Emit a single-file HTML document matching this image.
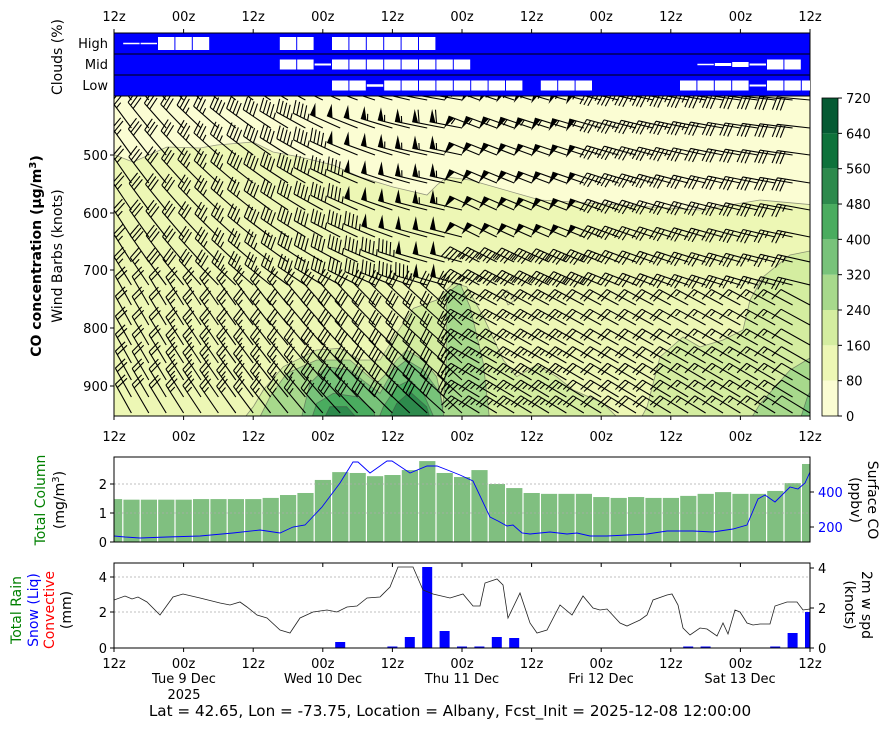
<!DOCTYPE html>
<html><head><meta charset="utf-8"><style>
html,body{margin:0;padding:0;background:#fff;}
svg{display:block;font-family:"DejaVu Sans","Liberation Sans",sans-serif;}
</style></head><body>
<svg id="s" width="891" height="730" viewBox="0 0 891 730" xmlns="http://www.w3.org/2000/svg">
<defs>
<clipPath id="cm"><rect x="114" y="96" width="696" height="320"/></clipPath>
<clipPath id="c2"><rect x="114" y="457" width="696" height="85"/></clipPath>
<clipPath id="c3"><rect x="114" y="563" width="696" height="85"/></clipPath>
</defs>
<g id="main" clip-path="url(#cm)"></g>
<g id="bars" ></g>
<g id="axes"></g>
<g font-size="13" fill="#000">
<text x="108" y="48" text-anchor="end">High</text>
<text x="108" y="69" text-anchor="end">Mid</text>
<text x="108" y="90" text-anchor="end">Low</text>
<text transform="translate(62,57) rotate(-90)" text-anchor="middle" font-size="14">Clouds (%)</text>
<text transform="translate(41,256) rotate(-90)" text-anchor="middle" font-size="14" font-weight="bold">CO concentration (μg/m<tspan font-size="10" dy="-5">3</tspan><tspan dy="5">)</tspan></text>
<text transform="translate(62,256) rotate(-90)" text-anchor="middle" font-size="14">Wind Barbs (knots)</text>
<text x="108" y="160" text-anchor="end">500</text>
<text x="108" y="218" text-anchor="end">600</text>
<text x="108" y="275" text-anchor="end">700</text>
<text x="108" y="333" text-anchor="end">800</text>
<text x="108" y="391" text-anchor="end">900</text>
<text transform="translate(45,500) rotate(-90)" text-anchor="middle" font-size="14" fill="green">Total Column</text>
<text transform="translate(64,500) rotate(-90)" text-anchor="middle" font-size="14">(mg/m<tspan font-size="10" dy="-5">3</tspan><tspan dy="5">)</tspan></text>
<text x="107" y="489" text-anchor="end">2</text>
<text x="107" y="518" text-anchor="end">1</text>
<text x="107" y="547" text-anchor="end">0</text>
<text x="818" y="497" fill="#0000ff">400</text>
<text x="818" y="532" fill="#0000ff">200</text>
<text transform="translate(868,500) rotate(90)" text-anchor="middle" font-size="14">Surface CO</text>
<text transform="translate(851,500) rotate(90)" text-anchor="middle" font-size="14">(ppbv)</text>
<text transform="translate(21,610) rotate(-90)" text-anchor="middle" font-size="14" fill="green">Total Rain</text>
<text transform="translate(38,610) rotate(-90)" text-anchor="middle" font-size="14" fill="#0000ff">Snow (Liq)</text>
<text transform="translate(54,610) rotate(-90)" text-anchor="middle" font-size="14" fill="red">Convective</text>
<text transform="translate(71,610) rotate(-90)" text-anchor="middle" font-size="14">(mm)</text>
<text x="107" y="582" text-anchor="end">4</text>
<text x="107" y="617" text-anchor="end">2</text>
<text x="107" y="653" text-anchor="end">0</text>
<text x="818" y="573">4</text>
<text x="818" y="613">2</text>
<text x="818" y="653">0</text>
<text transform="translate(862,605) rotate(90)" text-anchor="middle" font-size="14">2m w spd</text>
<text transform="translate(845,605) rotate(90)" text-anchor="middle" font-size="14">(knots)</text>
<text x="184" y="683" text-anchor="middle">Tue 9 Dec</text>
<text x="184" y="699" text-anchor="middle">2025</text>
<text x="323" y="683" text-anchor="middle">Wed 10 Dec</text>
<text x="462" y="683" text-anchor="middle">Thu 11 Dec</text>
<text x="601" y="683" text-anchor="middle">Fri 12 Dec</text>
<text x="740" y="683" text-anchor="middle">Sat 13 Dec</text>
<text x="450" y="716" text-anchor="middle" font-size="15.2">Lat = 42.65, Lon = -73.75, Location = Albany, Fcst_Init = 2025-12-08 12:00:00</text>
</g>
</svg>
<script>
var NS="http://www.w3.org/2000/svg";
function el(p,tag,a,txt){var e=document.createElementNS(NS,tag);for(var k in a)e.setAttribute(k,a[k]);if(txt!=null)e.textContent=txt;p.appendChild(e);return e;}
var S=document.getElementById('s'),M=document.getElementById('main'),B=document.getElementById('bars'),A=document.getElementById('axes');
function tx(k){return 114+17.4*k;}
var cols=['#fbfdd3','#edf7b5','#d4eda0','#a7d98c','#78c37a','#4aac5f','#2d8a4c','#0e723b','#055a33'];
el(M,'rect',{x:114,y:96,width:696,height:320,fill:cols[1]});
function poly(pts,c){el(M,'polygon',{points:pts.map(function(p){return p.join(',')}).join(' '),fill:c,stroke:'#444','stroke-opacity':0.55,'stroke-width':0.8});}
function Z(arr){return arr.map(function(p){return [250+p[0]/3,250+p[1]/3];});}
poly([[110,90],[815,90],[815,205],[760,200],[700,210],[620,205],[540,200],[470,180],[447,177],[437,185],[427,195],[393,187],[360,177],[333,165],[300,157],[273,152],[253,142],[217,145],[200,148],[167,147],[133,162],[115,155],[110,155]],cols[0]);
poly(Z([[-30,520],[10,470],[40,420],[100,350],[200,300],[270,295],[330,330],[390,330],[440,250],[490,175],[560,150],[610,100],[650,110],[700,200],[760,330],[800,380],[860,345],[920,380],[970,420],[1060,460],[1120,520]]),cols[2]);
poly([[640,420],[647,407],[660,357],[683,337],[700,347],[723,340],[743,330],[750,300],[763,277],[790,255],[815,250],[815,420]],cols[2]);
poly([[503,293],[507,290],[515,300],[508,305]],cols[1]);
poly(Z([[20,520],[60,440],[110,370],[200,330],[300,330],[380,400],[410,370],[440,330],[470,300],[520,330],[560,380],[590,520]]),cols[3]);
poly(Z([[575,520],[590,320],[590,130],[630,100],[660,170],[700,340],[720,520]]),cols[3]);
poly([[750,420],[760,404],[790,370],[815,355],[815,420]],cols[3]);
poly(Z([[150,520],[180,400],[230,350],[300,360],[350,400],[390,430],[430,360],[470,330],[520,360],[570,430],[585,520]]),cols[4]);
poly([[800,420],[808,395],[815,385],[815,420]],cols[4]);
poly(Z([[180,520],[200,460],[250,430],[320,440],[370,480],[380,520]]),cols[5]);
poly(Z([[380,520],[400,470],[440,410],[480,390],[520,430],[560,520]]),cols[5]);
poly(Z([[410,520],[440,460],[480,425],[530,470],[545,520]]),cols[6]);
poly(Z([[215,520],[240,470],[290,470],[335,520]]),cols[6]);
function barb(x,y,ang,spd,sg){
  var L=33,c=Math.cos(ang),s=Math.sin(ang),px=-s*sg,py=c*sg;
  var ex=x+L*c,ey=y+L*s;var d='M'+x.toFixed(1)+' '+y.toFixed(1)+'L'+ex.toFixed(1)+' '+ey.toFixed(1);
  var v=Math.round(spd/5)*5,pos=0,fl='';
  while(v>=50){var ax=ex-pos*c,ay=ey-pos*s,bx=ex-(pos+6)*c,by=ey-(pos+6)*s;
    fl+='M'+ax.toFixed(1)+' '+ay.toFixed(1)+'L'+(ax+px*13).toFixed(1)+' '+(ay+py*13).toFixed(1)+'L'+bx.toFixed(1)+' '+by.toFixed(1)+'Z';pos+=7;v-=50;}
  while(v>=10){var ax=ex-pos*c,ay=ey-pos*s;d+='M'+ax.toFixed(1)+' '+ay.toFixed(1)+'l'+(px*13+c*3.5).toFixed(1)+' '+(py*13+s*3.5).toFixed(1);pos+=4;v-=10;}
  if(v>=5){if(pos==0)pos=4;var ax=ex-pos*c,ay=ey-pos*s;d+='M'+ax.toFixed(1)+' '+ay.toFixed(1)+'l'+(px*6.5+c*1.7).toFixed(1)+' '+(py*6.5+s*1.7).toFixed(1);}
  el(M,'path',{d:d,stroke:'#000','stroke-width':1.1,fill:'none'});
  if(fl)el(M,'path',{d:fl,fill:'#000'});
}
var rows=[100,128,155,183,210,237,262,285,305,325,345,363,380,397,413];
var D=Math.PI/180;
rows.forEach(function(y){var f=(y-97)/320;
 for(var k=0;k<=40;k++){var t=3*k,x=tx(k),ang,sp,sg;
  if(t<62){var u=Math.min(1,t/55);sg=1;
    if(f<0.6){ang=235-45*u+10*f;sp=25+35*u*(1-f*0.6);}
    else{ang=242-20*u;sp=20+12*u;}
  } else {sg=-1;var u=(t-62)/58;
    if(f<0.65){ang=200-15*u+15*f;sp=(t<86?55-f*15:42-12*u-f*8);}
    else{ang=208+10*(f-0.65);sp=28-16*u;}
  }
  barb(x,y,ang*D,sp,sg);}
});
el(A,'rect',{x:114,y:96,width:696,height:320,fill:'none',stroke:'#000','stroke-width':1});
el(A,'rect',{x:114,y:33,width:696,height:63,fill:'#0000ff',stroke:'#000','stroke-width':1});
el(A,'line',{x1:114,y1:54,x2:810,y2:54,stroke:'#000'});el(A,'line',{x1:114,y1:75,x2:810,y2:75,stroke:'#000'});
var CL=[[43.5,[[1,1.5],[2,1.5],[3,13],[4,13],[5,13],[10,13],[11,13],[13,13],[14,13],[15,13],[16,13],[17,13],[18,13]]],
[64.5,[[10,10],[11,10],[12,2],[13,10],[14,10],[15,10],[16,10],[17,10],[18,10],[19,10],[20,10],[34,1.5],[35,3],[36,5],[37,2],[38,10],[39,10]]],
[85.5,[[13,10],[14,10],[15,2.5],[16,10],[17,10],[18,10],[19,10],[20,10],[21,10],[22,10],[23,10],[25,10],[26,10],[27,10],[33,10],[34,10],[35,10],[36,10],[37,2],[38,10],[39,10],[40,10]]]];
CL.forEach(function(r){r[1].forEach(function(b){var x=tx(b[0])-8.2,w=16.4;if(b[0]==40)w=8.2;if(b[0]==0){x=114;w=8.2;}
 el(A,'rect',{x:x,y:r[0]-b[1]/2,width:w,height:b[1],fill:'#fff'});});});
var lab=['12z','00z'];
for(var i=0;i<=10;i++){var x=tx(4*i),L=lab[i%2];
 el(A,'line',{x1:x,y1:33,x2:x,y2:29,stroke:'#000'});el(A,'text',{x:x,y:21,'text-anchor':'middle','font-size':13},L);
 el(A,'line',{x1:x,y1:416,x2:x,y2:420,stroke:'#000'});el(A,'text',{x:x,y:441,'text-anchor':'middle','font-size':13},L);
 el(A,'line',{x1:x,y1:563,x2:x,y2:567,stroke:'#000'});
 el(A,'line',{x1:x,y1:648,x2:x,y2:652,stroke:'#000'});el(A,'text',{x:x,y:668,'text-anchor':'middle','font-size':13},L);}
[155,213,270,328,386].forEach(function(y){el(A,'line',{x1:110,y1:y,x2:114,y2:y,stroke:'#000'});});
for(var i=0;i<9;i++){var y=416-(i+1)*35.33;el(A,'rect',{x:822,y:y,width:16,height:35.33,fill:cols[i]});}
el(A,'rect',{x:822,y:98,width:16,height:318,fill:'none',stroke:'#000','stroke-width':0.8});
for(var i=0;i<=9;i++){var y=416-i*35.33;el(A,'line',{x1:838,y1:y,x2:842,y2:y,stroke:'#000'});el(A,'text',{x:846,y:y+5,'font-size':13},String(i*80));}
var g2=el(A,'g',{'clip-path':'url(#c2)'});
var tc=[1.48,1.46,1.46,1.46,1.46,1.48,1.48,1.48,1.48,1.52,1.62,1.69,2.14,2.41,2.38,2.27,2.31,2.48,2.79,2.38,2.24,2.48,2.0,1.86,1.69,1.66,1.66,1.66,1.55,1.52,1.55,1.52,1.52,1.59,1.66,1.72,1.66,1.66,1.76,2.03,2.69];
tc.forEach(function(v,k){var h=v*29;el(g2,'rect',{x:tx(k)-8,y:542-h,width:16.2,height:h,fill:'#80bf80'});});
[484,513].forEach(function(y){el(g2,'line',{x1:114,y1:y,x2:810,y2:y,stroke:'#aaa','stroke-dasharray':'2,2','stroke-width':0.8});});
var bl=[[114,536],[125,537],[140,538],[167,537],[200,536],[233,533],[260,530],[280,533],[293,527],[305,525],[322,507],[340,483],[353,462],[358,462],[370,473],[387,461],[392,461],[410,473],[427,466],[437,466],[450,471],[460,475],[473,481],[490,517],[498,521],[507,526],[513,525],[522,533],[530,534],[550,532],[567,534],[577,533],[590,536],[607,536],[627,535],[647,534],[667,531],[693,531],[713,532],[733,529],[747,525],[758,499],[765,495],[775,502],[790,487],[798,489],[805,483],[810,472]];
el(g2,'polyline',{points:bl.join(' '),fill:'none',stroke:'#0000ff','stroke-width':0.9});
el(A,'rect',{x:114,y:457,width:696,height:85,fill:'none',stroke:'#000'});
[484,513,542].forEach(function(y){el(A,'line',{x1:110,y1:y,x2:114,y2:y,stroke:'#000'});});
[492,527].forEach(function(y){el(A,'line',{x1:810,y1:y,x2:814,y2:y,stroke:'#000'});});
var g3=el(A,'g',{'clip-path':'url(#c3)'});
[577,612].forEach(function(y){el(g3,'line',{x1:114,y1:y,x2:810,y2:y,stroke:'#aaa','stroke-dasharray':'2,2','stroke-width':0.8});});
var sn=[[13,6],[16,1.5],[17,11],[18,81],[19,17],[20,1.5],[21,1.5],[22,11],[23,10],[33,1.5],[34,1.5],[38,1.5],[39,15],[40,36]];
sn.forEach(function(b){el(g3,'rect',{x:tx(b[0])-5,y:648-b[1],width:10,height:b[1],fill:'#0000ff'});});
var wl=[[114,600],[125,596],[132,599],[138,597],[147,602],[160,615],[173,597],[183,594],[200,598],[220,603],[230,605],[240,602],[247,607],[257,615],[267,618],[280,630],[290,633],[300,618],[313,612],[327,610],[337,612],[347,607],[357,606],[367,598],[380,597],[390,587],[398,567],[413,567],[423,590],[433,594],[450,598],[463,594],[473,606],[480,606],[485,583],[497,579],[503,585],[508,618],[520,593],[530,623],[537,633],[547,630],[560,605],[572,615],[583,596],[593,608],[600,610],[607,609],[620,623],[627,626],[640,620],[647,615],[653,600],[667,595],[672,594],[678,605],[683,628],[690,635],[700,628],[707,629],[717,636],[723,623],[728,634],[735,610],[740,612],[747,623],[753,625],[760,624],[770,624],[775,606],[787,602],[797,602],[803,610],[810,609]];
el(g3,'polyline',{points:wl.join(' '),fill:'none',stroke:'#222','stroke-width':0.8});
el(A,'rect',{x:114,y:563,width:696,height:85,fill:'none',stroke:'#000'});
[577,612,648].forEach(function(y){el(A,'line',{x1:110,y1:y,x2:114,y2:y,stroke:'#000'});});
[568,608,648].forEach(function(y){el(A,'line',{x1:810,y1:y,x2:814,y2:y,stroke:'#000'});});
</script>
</body></html>
